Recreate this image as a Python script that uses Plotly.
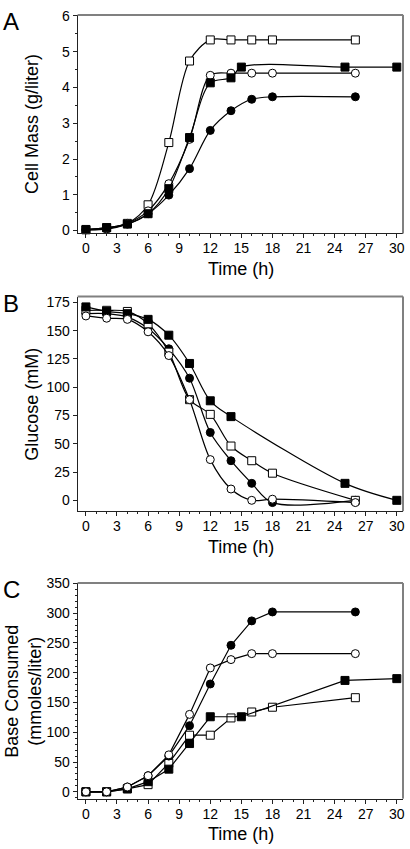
import plotly.graph_objects as go

W, H = 410, 849

# ---------------- data ----------------
# Panel A: Cell mass (g/liter)
tA_open_sq = [0, 2, 4, 6, 8, 10, 12, 14, 16, 18, 26]
yA_open_sq = [0.03, 0.08, 0.20, 0.72, 2.46, 4.74, 5.33, 5.33, 5.33, 5.33, 5.33]
tA_fill_sq = [0, 2, 4, 6, 8, 10, 12, 14, 15, 25, 30]
yA_fill_sq = [0.02, 0.08, 0.18, 0.47, 1.17, 2.60, 4.13, 4.27, 4.57, 4.57, 4.57]
tA_open_ci = [0, 2, 4, 6, 8, 10, 12, 14, 16, 18, 26]
yA_open_ci = [0.02, 0.05, 0.20, 0.55, 1.31, 2.55, 4.34, 4.40, 4.40, 4.40, 4.40]
tA_fill_ci = [0, 2, 4, 6, 8, 10, 12, 14, 16, 18, 26]
yA_fill_ci = [0.02, 0.04, 0.18, 0.47, 0.99, 1.73, 2.80, 3.35, 3.67, 3.74, 3.74]

# Panel B: Glucose (mM)
tB_open_sq = [0, 2, 4, 6, 8, 10, 12, 14, 16, 18, 26]
yB_open_sq = [168, 168, 167, 156, 131, 89, 76, 48, 35, 24, 0]
tB_fill_sq = [0, 2, 4, 6, 8, 10, 12, 14, 25, 30]
yB_fill_sq = [171, 167, 165, 160, 146, 121, 88, 74, 15, 0]
tB_open_ci = [0, 2, 4, 6, 8, 10, 12, 14, 16, 18, 26]
yB_open_ci = [163, 161, 160, 149, 128, 89, 36, 10, 0, 1, -2]
tB_fill_ci = [0, 2, 4, 6, 8, 10, 12, 14, 16, 18, 26]
yB_fill_ci = [165, 165, 162, 152, 134, 108, 60, 35, 15, -2, 0]

# Panel C: Base consumed (mmoles/liter)
tC_open_sq = [0, 2, 4, 6, 8, 10, 12, 14, 16, 18, 26]
yC_open_sq = [0, 0, 5, 12, 48, 95, 95, 124, 134, 142, 158]
tC_fill_sq = [0, 2, 4, 6, 8, 10, 12, 15, 25, 30]
yC_fill_sq = [0, 0, 5, 17, 38, 81, 126, 126, 187, 190]
tC_open_ci = [0, 2, 4, 6, 8, 10, 12, 14, 16, 18, 26]
yC_open_ci = [0, 0, 8, 27, 62, 130, 208, 222, 232, 232, 232]
tC_fill_ci = [0, 2, 4, 6, 8, 10, 12, 14, 16, 18, 26]
yC_fill_ci = [0, 0, 8, 27, 60, 111, 181, 246, 287, 302, 302]

x_ticks = [0, 3, 6, 9, 12, 15, 18, 21, 24, 27, 30]
panel_letters = ["A", "B", "C"]
y_titles = ["Cell Mass (g/liter)", "Glucose (mM)", "Base Consumed<br>(mmoles/liter)"]
x_title = "Time (h)"

# ---------------- layout geometry (pixels) ----------------
FONT = "Liberation Sans, Arial, Helvetica, sans-serif"
left_px, right_px = 78, 405
panels = [  # top px, bottom px, y range, y dtick, minor dtick
    dict(top=7, bot=229, yr=[-0.083, 6.03], dtick=1, minor=0.5),
    dict(top=293, bot=511, yr=[-9.6, 180.2], dtick=25, minor=None),
    dict(top=584, bot=803, yr=[-11.6, 350.5], dtick=50, minor=10),
]

fig = go.Figure()


def add_series(axis_idx, t, y, symbol, filled, shape):
    xa = "x" if axis_idx == 1 else f"x{axis_idx}"
    ya = "y" if axis_idx == 1 else f"y{axis_idx}"
    fig.add_trace(go.Scatter(
        x=t, y=y, xaxis=xa, yaxis=ya, mode="lines+markers",
        line=dict(color="black", width=1.2, shape=shape, smoothing=0.9),
        marker=dict(symbol=symbol, size=8,
                    color="black" if filled else "white",
                    line=dict(color="black", width=1)),
        showlegend=False, cliponaxis=False,
    ))


series = [
    (1, tA_open_sq, yA_open_sq, "square", False, "spline"),
    (1, tA_fill_ci, yA_fill_ci, "circle", True, "spline"),
    (1, tA_open_ci, yA_open_ci, "circle", False, "spline"),
    (1, tA_fill_sq, yA_fill_sq, "square", True, "spline"),
    (2, tB_fill_ci, yB_fill_ci, "circle", True, "spline"),
    (2, tB_open_sq, yB_open_sq, "square", False, "spline"),
    (2, tB_fill_sq, yB_fill_sq, "square", True, "spline"),
    (2, tB_open_ci, yB_open_ci, "circle", False, "spline"),
    (3, tC_open_sq, yC_open_sq, "square", False, "linear"),
    (3, tC_fill_sq, yC_fill_sq, "square", True, "linear"),
    (3, tC_fill_ci, yC_fill_ci, "circle", True, "linear"),
    (3, tC_open_ci, yC_open_ci, "circle", False, "linear"),
]
for s in series:
    add_series(*s)

layout = dict(
    width=W, height=H, margin=dict(l=0, r=0, t=0, b=0),
    paper_bgcolor="white", plot_bgcolor="white",
    font=dict(family=FONT, color="black", size=14),
)
annotations = []
shapes = []
for i, p in enumerate(panels, start=1):
    xk = "xaxis" if i == 1 else f"xaxis{i}"
    yk = "yaxis" if i == 1 else f"yaxis{i}"
    ydom = [1 - p["bot"] / H, 1 - p["top"] / H]
    layout[xk] = dict(
        domain=[left_px / W, right_px / W], range=[-0.8, 30.6],
        anchor="y" if i == 1 else f"y{i}",
        tickvals=x_ticks, ticks="outside", ticklen=4, tickwidth=1, tickcolor="#222",
        showline=True, linecolor="#222", linewidth=1, showgrid=False, zeroline=False,
        tickfont=dict(size=14, family=FONT), ticklabelstandoff=-2,
        minor=dict(dtick=1, ticks="outside", ticklen=2, tickcolor="#222", showgrid=False),
    )
    ycfg = dict(
        domain=ydom, range=p["yr"], anchor="x" if i == 1 else f"x{i}",
        dtick=p["dtick"], tick0=0, ticks="outside", ticklen=4, tickwidth=1, tickcolor="#222",
        showline=True, linecolor="#222", linewidth=1, showgrid=False, zeroline=False,
        tickfont=dict(size=14, family=FONT),
    )
    if p["minor"]:
        ycfg["minor"] = dict(dtick=p["minor"], ticks="outside", ticklen=2,
                             tickcolor="#222", showgrid=False)
    layout[yk] = ycfg
    # grey top and right frame
    xr = "x domain" if i == 1 else f"x{i} domain"
    yr = "y domain" if i == 1 else f"y{i} domain"
    shapes.append(dict(type="line", xref=xr, yref=yr, x0=0, x1=1, y0=1, y1=1,
                       line=dict(color="#808080", width=2)))
    shapes.append(dict(type="line", xref=xr, yref=yr, x0=1, x1=1, y0=0, y1=1,
                       line=dict(color="#808080", width=2)))
    # panel letter
    annotations.append(dict(text=panel_letters[i - 1], xref="paper", yref="paper",
                            x=1 / W, y=1 - (p["top"] + 7) / H, xanchor="left", yanchor="middle",
                            showarrow=False, font=dict(size=24, family=FONT)))
    # x title
    annotations.append(dict(text=x_title, xref="paper", yref="paper",
                            x=(86 + 399) / 2 / W, y=1 - (p["bot"] + 36) / H,
                            xanchor="center", yanchor="middle", showarrow=False,
                            font=dict(size=18, family=FONT)))
    # y title
    ycenter = (p["top"] + p["bot"]) / 2
    xc = 24 if i == 3 else 32
    annotations.append(dict(text=y_titles[i - 1], xref="paper", yref="paper",
                            x=xc / W, y=1 - ycenter / H, textangle=-90,
                            xanchor="center", yanchor="middle", showarrow=False,
                            font=dict(size=18, family=FONT)))

layout["annotations"] = annotations
layout["shapes"] = shapes
fig.update_layout(**layout)
fig.write_html("out.html", config={"displayModeBar": False},
               post_script="document.body.style.margin='0px';document.body.style.padding='0px';")
